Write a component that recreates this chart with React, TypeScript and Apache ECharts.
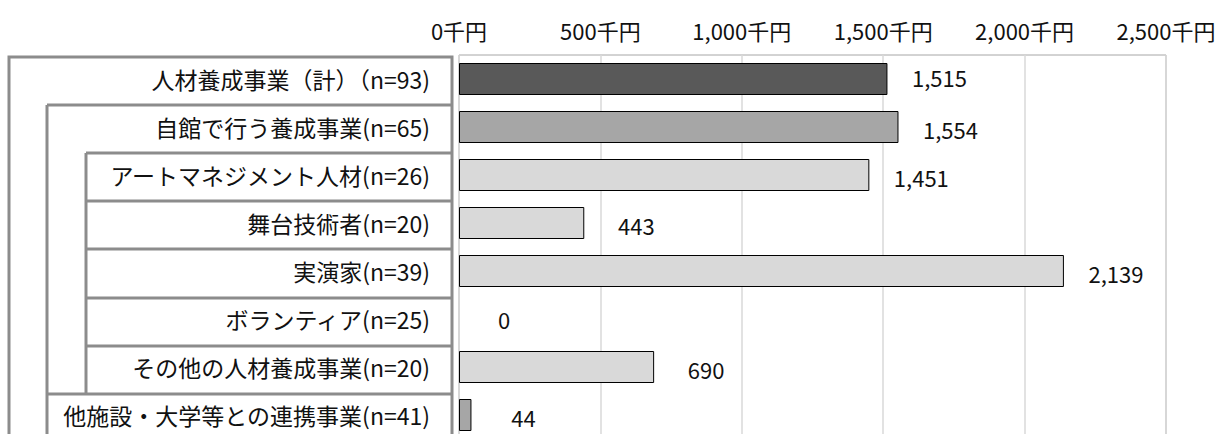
import React, { useEffect, useRef } from "react";
import * as echarts from "echarts";

const categories = [
  "人材養成事業（計）（n=93)",
  "自館で行う養成事業(n=65)",
  "アートマネジメント人材(n=26)",
  "舞台技術者(n=20)",
  "実演家(n=39)",
  "ボランティア(n=25)",
  "その他の人材養成事業(n=20)",
  "他施設・大学等との連携事業(n=41)",
];
const values = [1515, 1554, 1451, 443, 2139, 0, 690, 44];
const barColors = ["#595959", "#a6a6a6", "#d9d9d9", "#d9d9d9", "#d9d9d9", "#d9d9d9", "#d9d9d9", "#a6a6a6"];
const axisMin = 0;
const axisMax = 2500;
const axisStep = 500;

const FONT = "'Noto Sans CJK JP', 'Noto Sans', sans-serif";

export default function App() {
  const ref = useRef<HTMLDivElement>(null);
  useEffect(() => {
    if (!ref.current) return;
    const chart = echarts.init(ref.current, undefined, { renderer: "svg" });
    const lineStyle = { stroke: "#8c8c8c", lineWidth: 3 };
    const rowTop = 57;
    const rowH = 48.1;
    const y = (k: number) => Math.round(rowTop + rowH * k);
    const hline = (x1: number, yy: number) => ({
      type: "line",
      shape: { x1, y1: yy, x2: 452, y2: yy },
      style: lineStyle,
      silent: true,
    });
    const graphics: any[] = [
      { type: "rect", shape: { x: 9, y: rowTop, width: 443, height: 420 }, style: { fill: "none", ...lineStyle }, silent: true },
      hline(47, y(1)),
      { type: "line", shape: { x1: 47, y1: y(1), x2: 47, y2: 470 }, style: lineStyle, silent: true },
      hline(86, y(2)),
      { type: "line", shape: { x1: 86, y1: y(2), x2: 86, y2: y(7) }, style: lineStyle, silent: true },
      hline(86, y(3)),
      hline(86, y(4)),
      hline(86, y(5)),
      hline(86, y(6)),
      hline(47, y(7)),
    ];
    chart.setOption({
      animation: false,
      backgroundColor: "#ffffff",
      textStyle: { fontFamily: FONT },
      grid: {
        left: 459,
        top: 55,
        width: 707,
        height: 384,
        show: true,
        borderColor: "#a6a6a6",
        borderWidth: 1,
        backgroundColor: "#ffffff",
        containLabel: false,
      },
      xAxis: {
        type: "value",
        position: "top",
        min: axisMin,
        max: axisMax,
        interval: axisStep,
        axisLine: { show: false },
        axisTick: { show: false },
        splitLine: { show: true, lineStyle: { color: "#d9d9d9", width: 1.5 } },
        axisLabel: {
          margin: 14,
          fontSize: 22,
          color: "#111",
          fontFamily: FONT,
          formatter: (v: number) => v.toLocaleString("en-US") + "千円",
        },
      },
      yAxis: {
        type: "category",
        inverse: true,
        data: categories.map((c, i) => ({
          value: c,
          textStyle: i === 0 ? { padding: [12, 0, 0, 0] } : { padding: [4, 0, 0, 0] },
        })),
        axisLine: { show: false },
        axisTick: { show: false },
        splitLine: { show: false },
        axisLabel: {
          margin: 29,
          fontSize: 23,
          color: "#111",
          fontFamily: FONT,
        },
      },
      series: [
        {
          type: "bar",
          barWidth: 32,
          data: values.map((v, i) => ({
            value: v,
            itemStyle: { color: barColors[i], borderColor: "#000", borderWidth: v === 0 ? 0 : 1 },
            label: v === 0 ? { distance: 45 } : i === 0 ? { offset: [0, -2] } : { offset: [0, 2] },
          })),
          label: {
            show: true,
            position: "right",
            distance: 52,
            align: "center",
            fontSize: 22,
            color: "#111",
            fontFamily: FONT,
            formatter: (p: any) => Number(p.value).toLocaleString("en-US"),
          },
        },
      ],
      graphic: graphics,
    });
    return () => chart.dispose();
  }, []);
  return (
    <div
      ref={ref}
      style={{ position: "fixed", left: 0, top: 0, width: 1224, height: 445, background: "#fff" }}
    />
  );
}
